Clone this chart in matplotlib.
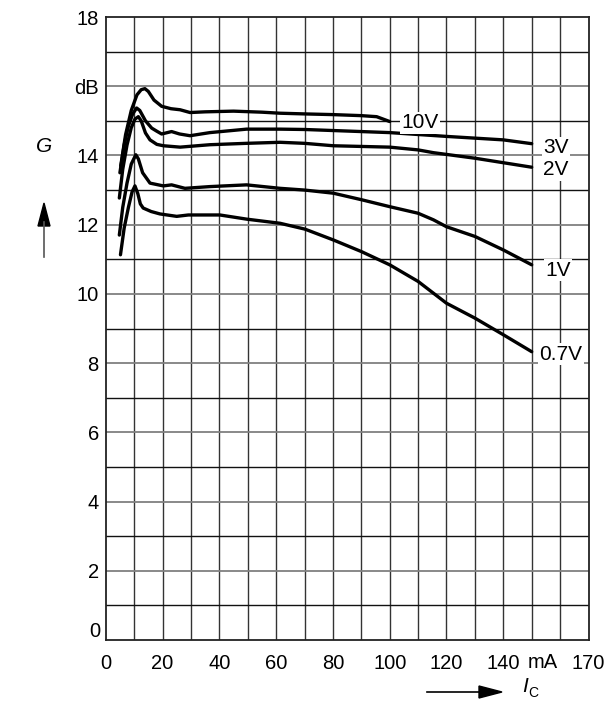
import matplotlib
matplotlib.use("Agg")
import matplotlib.pyplot as plt
from matplotlib.lines import Line2D
from matplotlib.patches import Polygon

plt.rcParams['font.family'] = ['Liberation Sans', 'DejaVu Sans']

# ---- data (I_C in mA, G in dB) ----
ic_10v = [5.3, 7, 9, 11, 12.5, 13.8, 15, 17, 19.7, 23, 26.2, 29.7, 35, 45, 55, 61.4, 70, 80, 90, 95.4, 100]
g_10v = [13.7, 14.6, 15.3, 15.75, 15.9, 15.93, 15.85, 15.6, 15.42, 15.35, 15.32, 15.24, 15.26, 15.28, 15.25, 15.22, 15.2, 15.18, 15.15, 15.12, 14.98]

ic_3v = [5, 6.5, 8, 9.5, 10.9, 12, 14, 16.2, 18, 19.7, 23.2, 26, 29.7, 36.7, 49.6, 61.4, 70, 80, 100, 120, 140, 150]
g_3v = [13.5, 14.3, 14.85, 15.2, 15.37, 15.3, 15.0, 14.79, 14.7, 14.62, 14.69, 14.62, 14.57, 14.66, 14.76, 14.76, 14.75, 14.72, 14.66, 14.55, 14.45, 14.34]

ic_2v = [4.8, 6, 7.5, 9, 10.3, 11.5, 12.5, 14, 15.6, 18, 20.3, 26.2, 36.7, 49.6, 61.4, 70, 80.1, 100, 110, 115.4, 130, 150]
g_2v = [12.77, 13.6, 14.3, 14.8, 15.05, 15.12, 15.0, 14.65, 14.45, 14.32, 14.28, 14.24, 14.31, 14.35, 14.38, 14.35, 14.28, 14.24, 14.16, 14.08, 13.92, 13.66]

ic_1v = [4.8, 6, 7.5, 9, 10.6, 11.5, 13, 15.6, 20.3, 23.2, 27.9, 36.7, 49.6, 61.4, 70, 80.1, 90.1, 100, 110, 115.4, 120, 130, 140, 150]
g_1v = [11.7, 12.5, 13.2, 13.75, 14.02, 13.9, 13.5, 13.2, 13.12, 13.15, 13.05, 13.10, 13.15, 13.05, 13.0, 12.91, 12.72, 12.52, 12.33, 12.14, 11.94, 11.66, 11.27, 10.84]

ic_07v = [5.2, 6.5, 8, 9.3, 10.3, 11.3, 12.2, 13.2, 16, 19.1, 25, 29.1, 40.2, 49.6, 61.4, 70.2, 80.1, 90.1, 100, 110, 120, 130, 140, 150]
g_07v = [11.13, 11.9, 12.5, 12.95, 13.12, 12.9, 12.6, 12.48, 12.38, 12.31, 12.24, 12.28, 12.28, 12.16, 12.04, 11.87, 11.56, 11.22, 10.84, 10.36, 9.73, 9.3, 8.82, 8.33]

series = [(ic_10v, g_10v), (ic_3v, g_3v), (ic_2v, g_2v), (ic_1v, g_1v), (ic_07v, g_07v)]
curve_labels = ["10V", "3V", "2V", "1V", "0.7V"]
label_x = [104.2, 154.0, 154.0, 154.7, 152.6]
label_y = [14.94, 14.22, 13.58, 10.69, 8.26]

x_ticks = [0, 20, 40, 60, 80, 100, 120, 140, 170]
x_ticklabels = ["0", "20", "40", "60", "80", "100", "120", "140", "170"]
y_ticks = [2, 4, 6, 8, 10, 12, 14, 16, 18]
y_ticklabels = ["2", "4", "6", "8", "10", "12", "14", "dB", "18"]

W, H = 608, 701
fig = plt.figure(figsize=(W / 100, H / 100), dpi=100)
ax = fig.add_axes([105.7 / W, 1 - 640 / H, (588.5 - 105.7) / W, (640 - 17) / H])
ax.set_xlim(0, 170)
ax.set_ylim(0, 18)

# grid
for xv in range(10, 170, 10):
    ax.axvline(xv, color='#333333', lw=1.0, zorder=1)
for yv in range(1, 18):
    if yv % 2 == 0:
        ax.axhline(yv, color='#808080', lw=1.3, zorder=1)
    else:
        ax.axhline(yv, color='#111111', lw=1.0, zorder=1)

for s in ax.spines.values():
    s.set_linewidth(1.3)
    s.set_color('#222222')

for xs, ys in series:
    ax.plot(xs, ys, color='black', lw=2.4, solid_capstyle='round',
            solid_joinstyle='round', zorder=3)

for t, lx, ly in zip(curve_labels, label_x, label_y):
    ax.text(lx, ly, t, fontsize=15, ha='left', va='center', zorder=4,
            bbox=dict(facecolor='white', edgecolor='none', pad=1.0))

ax.set_xticks(x_ticks)
ax.set_xticklabels(x_ticklabels, fontsize=14.5)
ax.set_yticks(y_ticks)
ax.set_yticklabels(y_ticklabels, fontsize=14.5)
ax.tick_params(axis='x', length=0, pad=10)
ax.tick_params(axis='y', length=0, pad=5)

# extra axis texts
ax.text(-1.9, 0.25, "0", fontsize=14.5, ha='right', va='center', clip_on=False)
ax.text(154, -0.66, "mA", fontsize=14.5, ha='center', va='center', clip_on=False)


def fx(px):
    return px / W


def fy(py):
    return 1 - py / H


# G arrow (vertical)
fig.text(fx(44), fy(147), "G", fontsize=15, style='italic', ha='center', va='center')
fig.add_artist(Line2D([fx(44), fx(44)], [fy(257), fy(222)], color='#555555', lw=1.2,
                      transform=fig.transFigure))
fig.add_artist(Polygon([[fx(44), fy(203)], [fx(38), fy(226)], [fx(50), fy(226)]],
                       closed=True, facecolor='black', edgecolor='black',
                       transform=fig.transFigure))

# I_C arrow (horizontal)
fig.add_artist(Line2D([fx(427), fx(482)], [fy(692), fy(692)], color='black', lw=1.2,
                      transform=fig.transFigure))
fig.add_artist(Polygon([[fx(502), fy(692)], [fx(479), fy(686)], [fx(479), fy(698)]],
                       closed=True, facecolor='black', edgecolor='black',
                       transform=fig.transFigure))
fig.text(fx(522), fy(686), "I", fontsize=15, style='italic', ha='left', va='center')
fig.text(fx(528), fy(693), "C", fontsize=10, ha='left', va='center')

fig.savefig("out.png", dpi=100)
